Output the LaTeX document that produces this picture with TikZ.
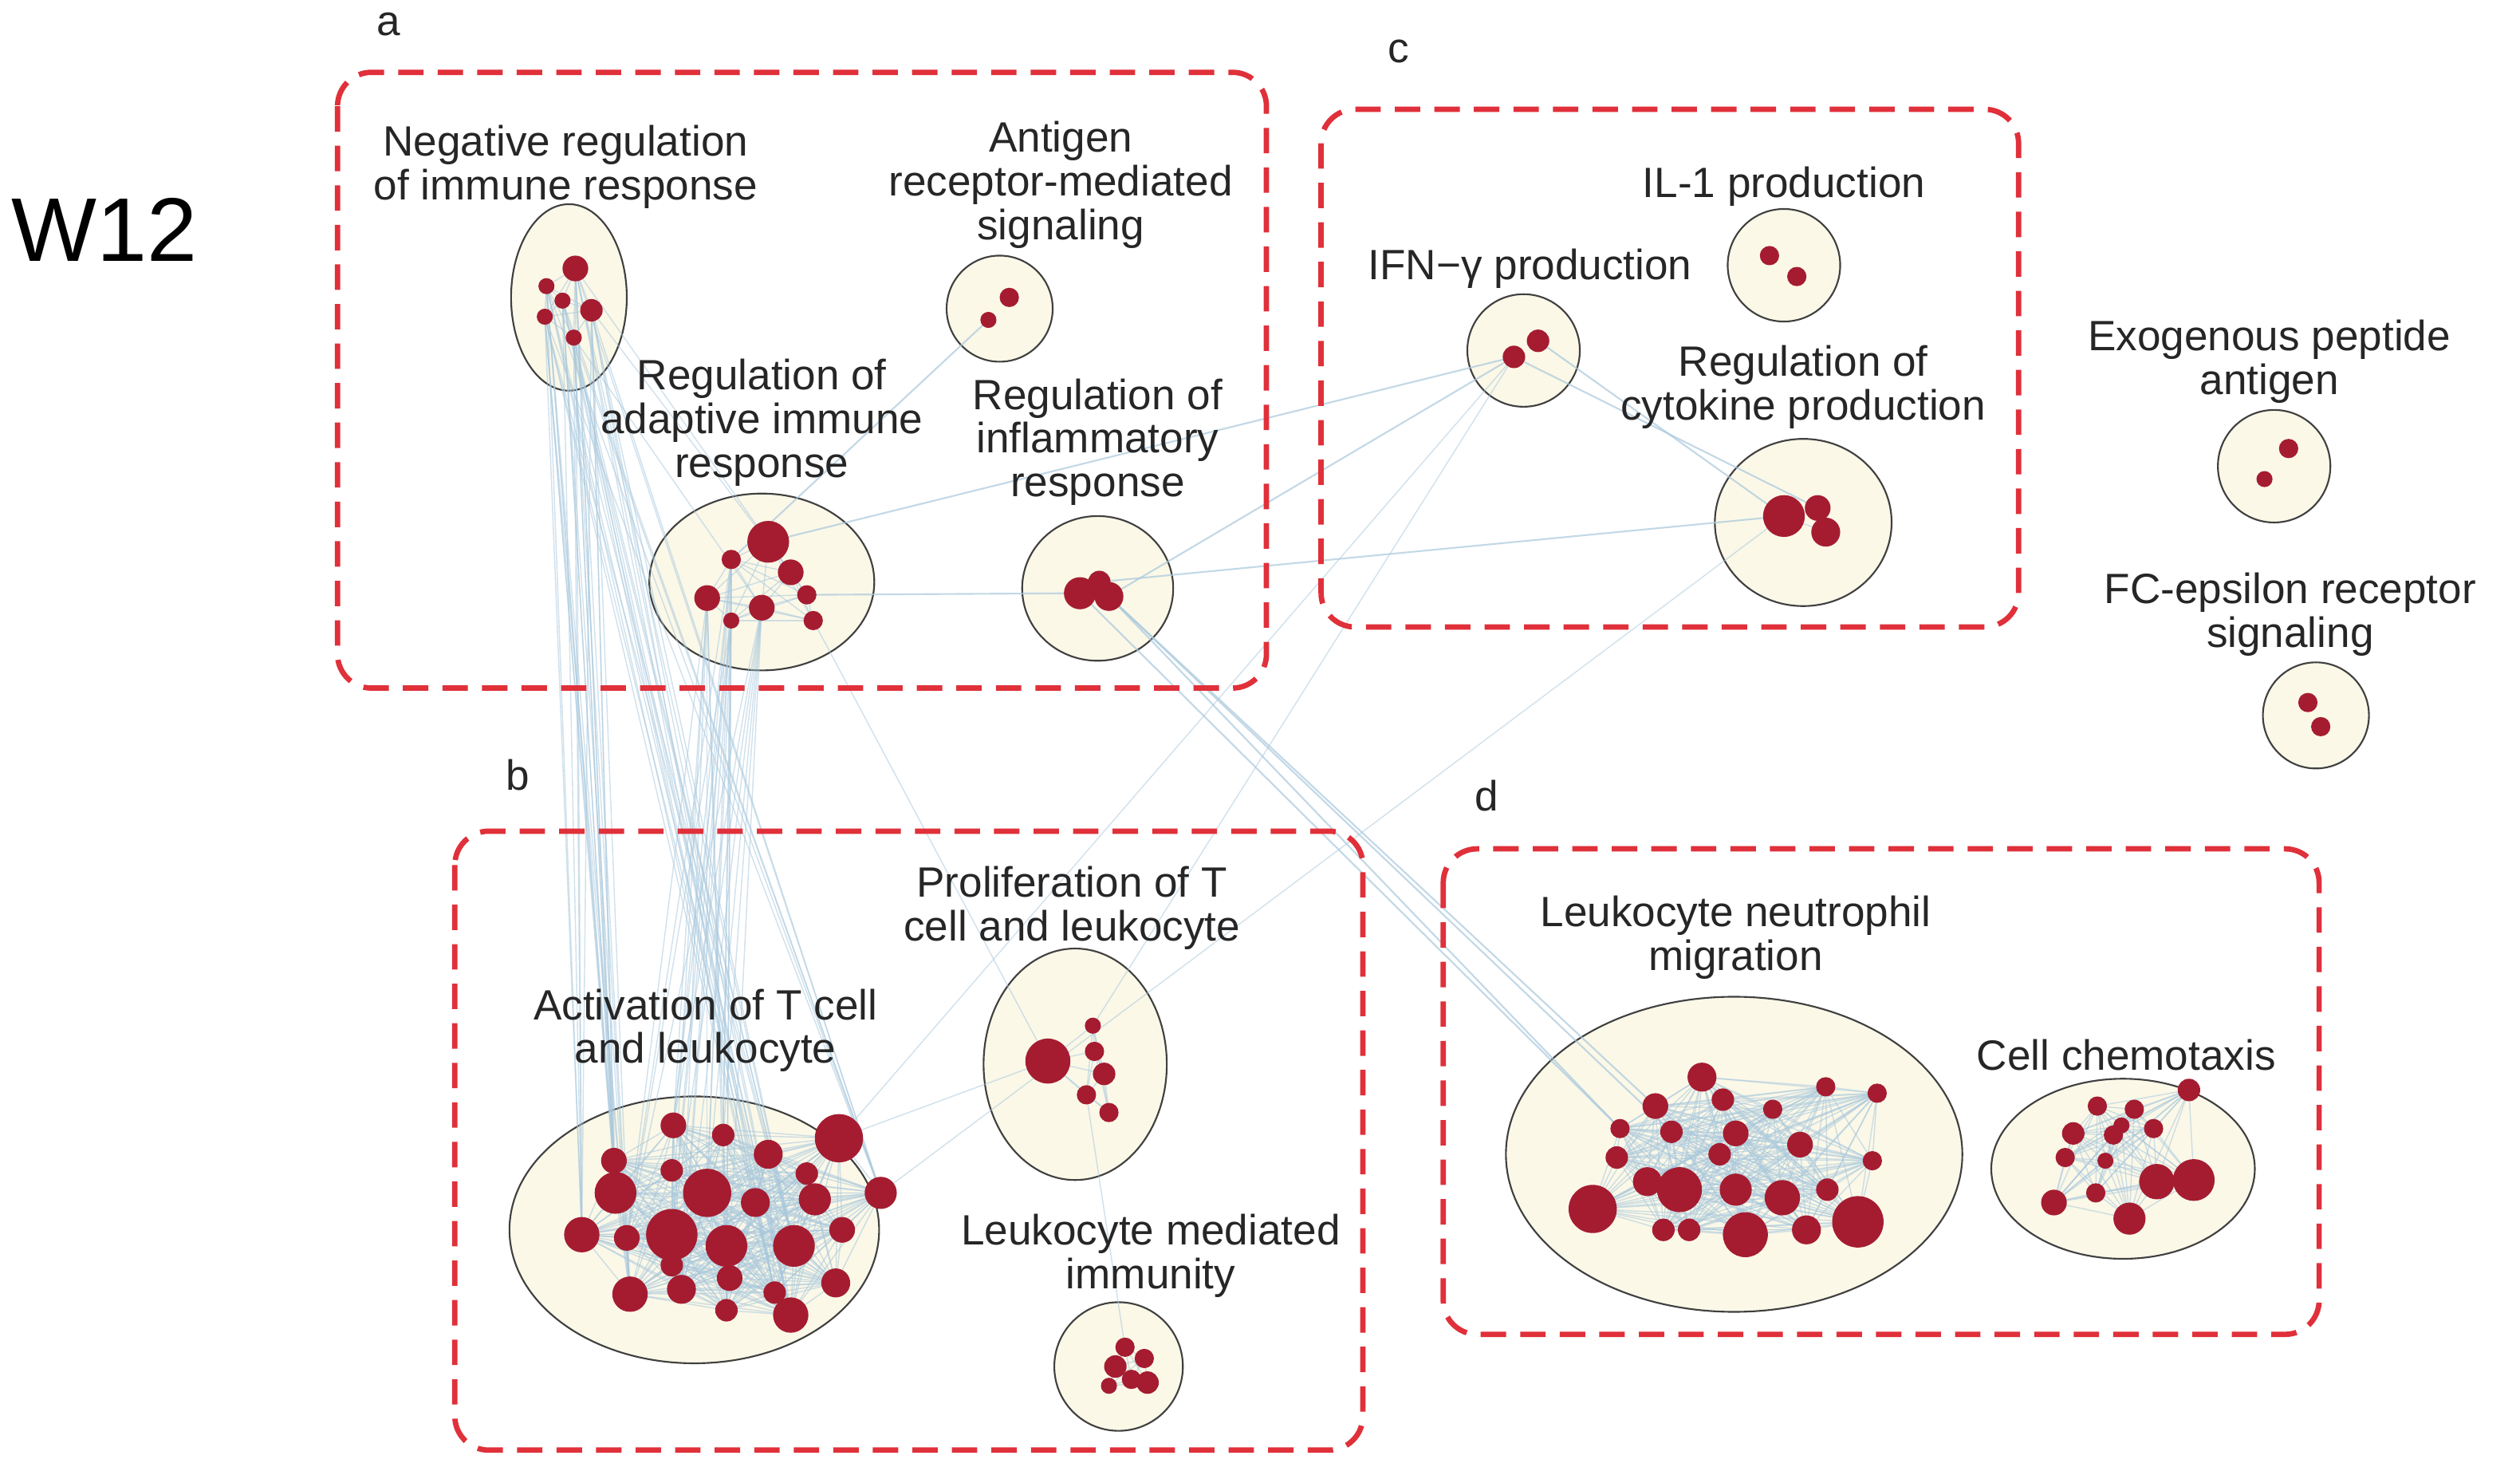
\documentclass[tikz,border=0pt]{standalone}
\usepackage{fontspec}
\setmainfont{Liberation Sans}
\pgfdeclarelayer{bg}\pgfdeclarelayer{edges}
\pgfsetlayers{bg,edges,main}
\definecolor{dotred}{HTML}{A51C30}
\definecolor{cream}{HTML}{FBF8E8}
\definecolor{boxred}{HTML}{E0303A}
\definecolor{edgeblue}{HTML}{A9C8DC}
\tikzset{
  dot/.style={circle,fill=dotred,draw=none,inner sep=0pt},
  clus/.style={ellipse,draw=black!75,line width=0.6pt,fill=cream,inner sep=0pt},
  grp/.style={draw=boxred,line width=1.9pt,dash pattern=on 9pt off 5pt,rounded corners=12pt},
  lab/.style={font=\fontsize{15}{15.5}\selectfont,align=center,text=black!85},
  glab/.style={font=\fontsize{15}{17}\selectfont,text=black!85},
  ed/.style={draw=edgeblue,line width=0.4pt,opacity=0.55},
  xed/.style={draw=edgeblue,line width=0.6pt,opacity=0.7}
}
\usetikzlibrary{shapes.geometric}
\newcommand{\mkdots}[2]{\foreach \x/\y/\r [count=\k] in {#2}{\node[dot,minimum size=\r*0.04cm] (#1\k) at (\x,\y) {};}}
\newcommand{\mkedges}[2]{\begin{pgfonlayer}{edges}\foreach \i in {1,...,#2}{\foreach \j in {\i,...,#2}{\draw[ed] (#1\i.center) -- (#1\j.center);}}\end{pgfonlayer}}
\begin{document}
\begin{tikzpicture}[x=0.02cm,y=-0.02cm]
\useasboundingbox (0,0) rectangle (1568,915);
\node[font=\fontsize{32}{36}\selectfont] (w) at (65,143) {W12};
% groups
\draw[grp] (210,45) rectangle (788,428);
\draw[grp] (283,517) rectangle (848,902);
\draw[grp] (822,68) rectangle (1256,390);
\draw[grp] (898,528) rectangle (1443,830);
\node[glab] (la) at (242,15) {a};
\node[glab] (lb) at (322,482) {b};
\node[glab] (lc) at (870,32) {c};
\node[glab] (ld) at (925,495) {d};
% clusters
\begin{pgfonlayer}{bg}
\node[clus,minimum width=72*0.02cm,minimum height=116*0.02cm] (cN) at (354,185) {};
\node[clus,minimum size=66*0.02cm] (cAg) at (622,192) {};
\node[clus,minimum width=140*0.02cm,minimum height=110*0.02cm] (cAd) at (474,362) {};
\node[clus,minimum width=94*0.02cm,minimum height=90*0.02cm] (cIn) at (683,366) {};
\node[clus,minimum size=70*0.02cm] (cIF) at (948,218) {};
\node[clus,minimum size=70*0.02cm] (cIL) at (1110,165) {};
\node[clus,minimum width=110*0.02cm,minimum height=104*0.02cm] (cCy) at (1122,325) {};
\node[clus,minimum size=70*0.02cm] (cEx) at (1415,290) {};
\node[clus,minimum size=66*0.02cm] (cFC) at (1441,445) {};
\node[clus,minimum width=230*0.02cm,minimum height=166*0.02cm] (cAc) at (432,765) {};
\node[clus,minimum width=114*0.02cm,minimum height=144*0.02cm] (cPr) at (669,662) {};
\node[clus,minimum size=80*0.02cm] (cLm) at (696,850) {};
\node[clus,minimum width=284*0.02cm,minimum height=196*0.02cm] (cNe) at (1079,718) {};
\node[clus,minimum width=164*0.02cm,minimum height=112*0.02cm] (cCh) at (1321,727) {};
\end{pgfonlayer}
% labels
\node[lab] (tN) at (352,104) {Negative regulation\\of immune response};
\node[lab] (tAg) at (660,115) {Antigen\\receptor-mediated\\signaling};
\node[lab] (tAd) at (474,263) {Regulation of\\adaptive immune\\response};
\node[lab] (tIn) at (683,275) {Regulation of\\inflammatory\\response};
\node[lab] (tIF) at (952,167) {IFN−γ production};
\node[lab] (tIL) at (1110,116) {IL-1 production};
\node[lab] (tCy) at (1122,241) {Regulation of\\cytokine production};
\node[lab] (tEx) at (1412,225) {Exogenous peptide\\antigen};
\node[lab] (tFC) at (1425,382) {FC-epsilon receptor\\signaling};
\node[lab] (tAc) at (439,641) {Activation of T cell\\and leukocyte};
\node[lab] (tPr) at (667,565) {Proliferation of T\\cell and leukocyte};
\node[lab] (tLm) at (716,781) {Leukocyte mediated\\immunity};
\node[lab] (tNe) at (1080,583) {Leukocyte neutrophil\\migration};
\node[lab] (tCh) at (1323,656) {Cell chemotaxis};
% dots
\mkdots{N}{358/167/8,340/178/5,368/193/7,339/197/5,357/210/5,350/187/5}
\mkdots{G}{628/185/6,615/199/5}
\mkdots{D}{478/337/13,455/348/6,492/356/8,440/372/8,474/378/8,502/370/6,506/386/6,455/386/5}
\mkdots{I}{672/369/10,690/371/9,684/362/7}
\mkdots{F}{942/222/7,957/212/7}
\mkdots{L}{1101/159/6,1118/172/6}
\mkdots{C}{1110/321/13,1131/316/8,1136/331/9}
\mkdots{E}{1424/279/6,1409/298/5}
\mkdots{P}{1436/437/6,1444/452/6}
\mkdots{A}{522/708/15,382/722/8,419/700/8,450/706/7,478/718/9,502/730/7,383/742/13,418/728/7,440/742/15,470/748/9,507/746/10,548/742/10,362/768/11,390/770/8,418/768/16,452/775/13,494/775/13,524/765/8,392/805/11,424/802/9,454/795/8,482/804/7,520/798/9,452/815/7,492/818/11,418/787/7}
\mkdots{R}{652/660/14,680/638/5,681/654/6,687/668/7,676/681/6,690/692/6}
\mkdots{M}{700/838/6,712/845/6,694/850/7,704/858/6,714/860/7,690/862/5}
\mkdots{W}{1059/670/9,1030/688/8,1072/684/7,1103/690/6,1136/676/6,1168/680/6,1008/702/6,1040/704/7,1080/705/8,1120/712/8,1006/720/7,1025/735/9,1045/740/14,1080/740/10,1109/745/11,1137/740/7,1165/722/6,991/752/15,1035/765/7,1051/765/7,1086/768/14,1124/765/9,1156/760/16,1070/718/7}
\mkdots{H}{1305/688/6,1328/690/6,1362/678/7,1290/705/7,1315/706/6,1340/702/6,1285/720/6,1310/722/5,1342/735/11,1365/734/13,1278/748/8,1304/742/6,1325/758/10,1320/700/5}
% intra edges
\mkedges{N}{6}\mkedges{D}{8}\mkedges{A}{26}\mkedges{R}{6}\mkedges{M}{6}
\mkedges{W}{24}\mkedges{H}{14}\mkedges{C}{3}\mkedges{I}{3}
% inter edges
\begin{pgfonlayer}{edges}
\foreach \i in {1,...,6}{\foreach \j in {2,7,13,19,22,25,12,17}{\draw[ed] (N\i.center) -- (A\j.center);}}
\foreach \i in {2,4,5,8}{\foreach \j in {3,4,9,14,15,20,24}{\draw[ed] (D\i.center) -- (A\j.center);}}
\foreach \i in {1,3,5}{\draw[ed] (N\i.center) -- (D\i.center);}
\foreach \j in {2,7,8}{\draw[xed] (I2.center) -- (W\j.center);}
\draw[xed] (I1.center) -- (W7.center);
\draw[xed] (D1.center) -- (F1.center);
\draw[xed] (D6.center) -- (I1.center);
\draw[xed] (I3.center) -- (C1.center);
\draw[xed] (I2.center) -- (F1.center);
\draw[xed] (G2.center) -- (D2.center);
\draw[xed] (F2.center) -- (C1.center);
\draw[xed] (F1.center) -- (C2.center);
\draw[ed] (A1.center) -- (F1.center);
\draw[ed] (A12.center) -- (C1.center);
\draw[ed] (R1.center) -- (D7.center);
\draw[ed] (R5.center) -- (M1.center);
\draw[ed] (A1.center) -- (R1.center);
\draw[ed] (R2.center) -- (F1.center);
\end{pgfonlayer}
\end{tikzpicture}
\end{document}
